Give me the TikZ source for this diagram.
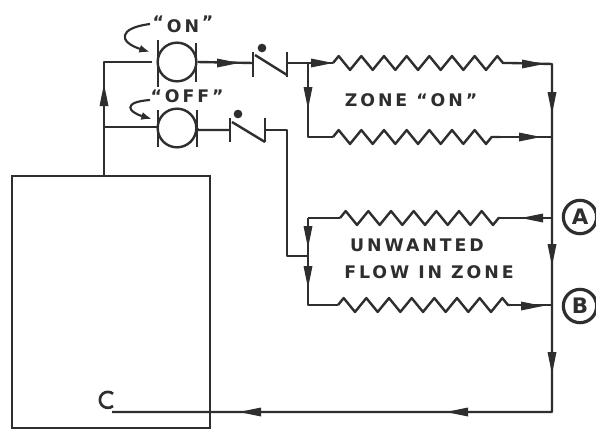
\documentclass[tikz,border=0pt]{standalone}
\usepackage{fontspec}
\setmainfont{DejaVu Sans}
\newfontfamily\letterfont[LetterSpace=17,WordSpace=1.0]{DejaVu Sans Bold}
\usetikzlibrary{decorations.pathmorphing,arrows.meta}
\definecolor{ink}{HTML}{2E2E2E}
\tikzset{
  x=0.75pt,y=-0.75pt,
  pipe/.style={draw=ink,line width=1.8pt,line join=round},
  coil/.style={pipe,decorate,decoration={zigzag,amplitude=5.2pt,segment length=17pt}},
  plate/.style={draw=ink,line width=1.8pt},
  disc/.style={circle,draw=ink,line width=1.8pt,minimum size=29pt,inner sep=0pt},
  badge/.style={circle,draw=ink,line width=2.4pt,minimum size=25pt,inner sep=0pt,font=\bfseries\fontsize{16}{16}\selectfont,text=ink},
  dot/.style={circle,fill=ink,minimum size=6.5pt,inner sep=0pt},
  lettering/.style={font=\letterfont\fontsize{13}{13}\selectfont,text=ink},
}
\newcommand{\flowarrow}[3]{\fill[ink,shift={(#1,#2)},rotate=#3] (-11,-4.5) -- (11,0) -- (-11,4.5) -- cycle;}
\begin{document}
\begin{tikzpicture}
\useasboundingbox (0,0) rectangle (596,432);
\fill[white] (0,0) rectangle (596,432);
% boiler
\node[draw=ink,line width=1.5pt,minimum width=148.5pt,minimum height=189pt,inner sep=0pt] (boiler) at (111,302) {};
% valves
\node[disc] (von) at (177,62) {};
\node[disc] (voff) at (177,128) {};
\draw[plate] (158,40) -- (158,87);
\draw[plate] (196,43) -- (196,82);
\draw[plate] (158,110) -- (158,147);
\draw[plate] (197,110) -- (197,147);
% check valves
\coordinate (c1l) at (253,63); \coordinate (c1r) at (287,63);
\coordinate (c2l) at (230,130); \coordinate (c2r) at (265,130);
\draw[plate] (253,52) -- (253,77);
\draw[plate] (287,52) -- (287,77);
\draw[plate] (255,55) -- (287,75);
\node[dot] (d1) at (262,48) {};
\draw[plate] (230,118) -- (230,142);
\draw[plate] (265,118) -- (265,142);
\draw[plate] (232,122) -- (265,142);
\node[dot] (d2) at (238,114) {};
% junction coordinates
\coordinate (up) at (104,176);
\coordinate (t1) at (104,62);
\coordinate (t2) at (104,127);
\coordinate (f1) at (308,63);
\coordinate (f2) at (308,137);
\coordinate (m1) at (552,64);
\coordinate (m2) at (552,137);
\coordinate (m3) at (552,218);
\coordinate (m4) at (552,305);
\coordinate (m5) at (552,412);
\coordinate (f3) at (308,218);
\coordinate (f4) at (308,305);
\coordinate (fj) at (308,256);
\coordinate (rise) at (287,130);
\coordinate (riseb) at (287,256);
\coordinate (ret) at (112,412);
% pipes
\draw[pipe] (up) -- (t1) -- (152,62);
\draw[pipe] (t2) -- (157,127);
\draw[pipe] (von.east) -- (c1l);
\draw[pipe] (voff.east) -- (197,130) -- (c2l);
\draw[pipe] (c1r) -- (f1);
\draw[pipe] (c2r) -- (rise) -- (riseb) -- (fj);
\draw[pipe] (f1) -- (333,63);
\draw[pipe] (f1) -- (f2) -- (333,137);
\draw[pipe] (f3) -- (f4) -- (338,305);
\draw[pipe] (f3) -- (340,218);
\draw[coil] (333,63) -- (510,63);
\draw[coil] (333,137) -- (500,137);
\draw[coil] (340,218) -- (500,218);
\draw[coil] (338,305) -- (510,305);
\draw[pipe] (510,63) -- (m1) -- (m5) -- (ret);
\draw[pipe] (500,137) -- (m2);
\draw[pipe] (500,218) -- (m3);
\draw[pipe] (510,305) -- (m4);
% trap end
\draw[draw=ink,line width=2pt] (113,406) arc (50:310:8);
% arrows
\flowarrow{104}{95}{90}
\flowarrow{228}{63}{0}
\flowarrow{322}{63}{0}
\flowarrow{308}{98}{-90}
\flowarrow{533}{64}{0}
\flowarrow{552}{103}{-90}
\flowarrow{530}{137}{0}
\flowarrow{532}{218}{180}
\flowarrow{308}{237}{-90}
\flowarrow{308}{277}{-90}
\flowarrow{552}{255}{-90}
\flowarrow{532}{306}{0}
\flowarrow{552}{363}{-90}
\flowarrow{457}{412}{180}
\flowarrow{250}{412}{180}
% labels
\node[lettering] (lon) at (183,24) {\raisebox{3pt}{“}\,ON\,\raisebox{3pt}{”}};
\node[lettering] (loff) at (187,96) {“OFF”};
\node[lettering] (lz) at (411,100) {ZONE “ON”};
\node[lettering] (lu) at (417,245) {UNWANTED};
\node[lettering] (lf) at (429,272) {FLOW IN ZONE};
\node[badge] (A) at (580,217) {A};
\node[badge] (B) at (580,306) {B};
% turn arrows
\draw[ink,line width=1.6pt,-{Latex[length=8pt,width=6pt]}] (150,24) .. controls (118,28) and (118,42) .. (150,52);
\draw[ink,line width=1.6pt,-{Latex[length=8pt,width=6pt]}] (150,100) .. controls (122,102) and (128,112) .. (152,119);
\end{tikzpicture}
\end{document}
